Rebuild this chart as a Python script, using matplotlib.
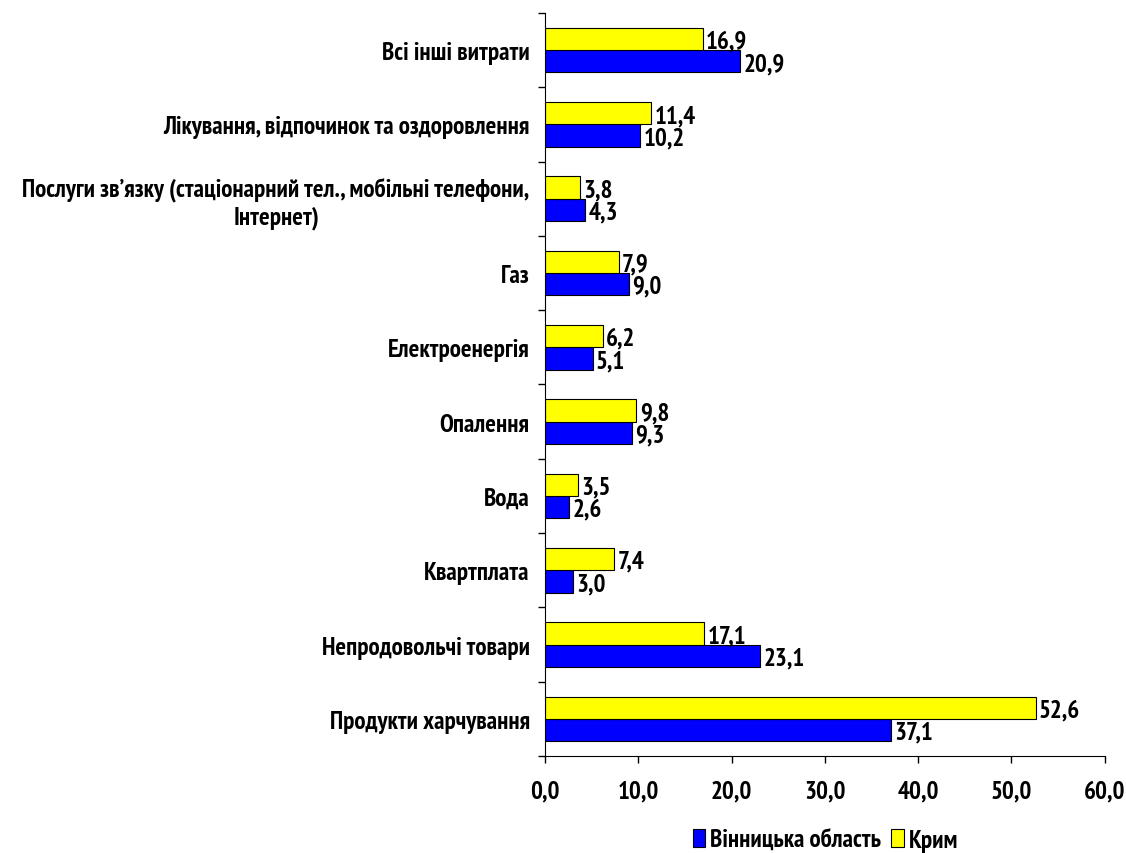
import matplotlib
matplotlib.use("Agg")
import matplotlib.pyplot as plt
from matplotlib import font_manager
from matplotlib.ft2font import FT2Font
import numpy as np

# categories from bottom to top
categories = [
    "Продукти харчування",
    "Непродовольчі товари",
    "Квартплата",
    "Вода",
    "Опалення",
    "Електроенергія",
    "Газ",
    "Послуги зв’язку (стаціонарний тел., мобільні телефони,\nІнтернет)",
    "Лікування, відпочинок та оздоровлення",
    "Всі інші витрати",
]
vinnytsia = [37.1, 23.1, 3.0, 2.6, 9.3, 5.1, 9.0, 4.3, 10.2, 20.9]
crimea = [52.6, 17.1, 7.4, 3.5, 9.8, 6.2, 7.9, 3.8, 11.4, 16.9]
xticks = [0, 10, 20, 30, 40, 50, 60]


def has_cyrillic(path):
    try:
        cmap = FT2Font(path).get_charmap()
    except Exception:
        return False
    return all(c in cmap for c in (0x0416, 0x0456, 0x2019))


def weight_num(w):
    if isinstance(w, int):
        return w
    return font_manager.weight_dict.get(w, 400)


# a narrow face with Cyrillic if one is installed
cands = [f for f in font_manager.fontManager.ttflist
         if ('Narrow' in f.name or 'Condensed' in f.name
             or f.stretch in ('condensed', 'semi-condensed', 'extra-condensed'))
         and f.style == 'normal' and has_cyrillic(f.fname)]
cands.sort(key=lambda f: ('Narrow' not in f.name, abs(weight_num(f.weight) - 700), f.name))
if cands:
    fp = font_manager.FontProperties(fname=cands[0].fname)
    fs = 18
else:
    fp = font_manager.FontProperties(family='Liberation Sans', weight='normal')
    fs = 14


def fprop(size):
    p = fp.copy()
    p.set_size(size)
    return p


fig = plt.figure(figsize=(11.26, 8.54), dpi=100)
ax = fig.add_axes([0.484, 0.1136, 0.497, 0.870])

y = np.arange(len(categories))
h = 0.3
b_blue = ax.barh(y - h / 2, vinnytsia, height=h, color='#0000FF', edgecolor='black',
                 linewidth=0.8, label='Вінницька область')
b_yel = ax.barh(y + h / 2, crimea, height=h, color='#FFFF00', edgecolor='black',
                linewidth=0.8, label='Крим')

for bars, vals in ((b_blue, vinnytsia), (b_yel, crimea)):
    for bar, v in zip(bars, vals):
        ax.text(v + 0.35, bar.get_y() + bar.get_height() / 2 - 0.03, f"{v:.1f}".replace('.', ','),
                va='center', ha='left', fontproperties=fprop(fs))

ax.set_xlim(0, 60)
ax.set_ylim(-0.5, len(categories) - 0.5)
ax.set_xticks(xticks)
ax.set_xticklabels([f"{t:.1f}".replace('.', ',') for t in xticks], fontproperties=fprop(fs))
ax.set_yticks(y)
ax.set_yticklabels(categories, fontproperties=fprop(fs), multialignment='center')
ax.tick_params(axis='y', which='major', length=0, pad=11)
ax.set_yticks(np.arange(-0.5, len(categories)), minor=True)
ax.tick_params(axis='y', which='minor', length=5, width=1)
ax.tick_params(axis='x', length=5, width=1, pad=12)

for s in ('top', 'right'):
    ax.spines[s].set_visible(False)

handles = [b_blue, b_yel]
fig.legend(handles, ['Вінницька область', 'Крим'], loc='center', bbox_to_anchor=(0.733, 0.015),
           ncol=2, frameon=False, prop=fprop(fs), handlelength=0.5, handleheight=0.75,
           handletextpad=0.2, columnspacing=0.4)

fig.savefig("out.png", dpi=100)
